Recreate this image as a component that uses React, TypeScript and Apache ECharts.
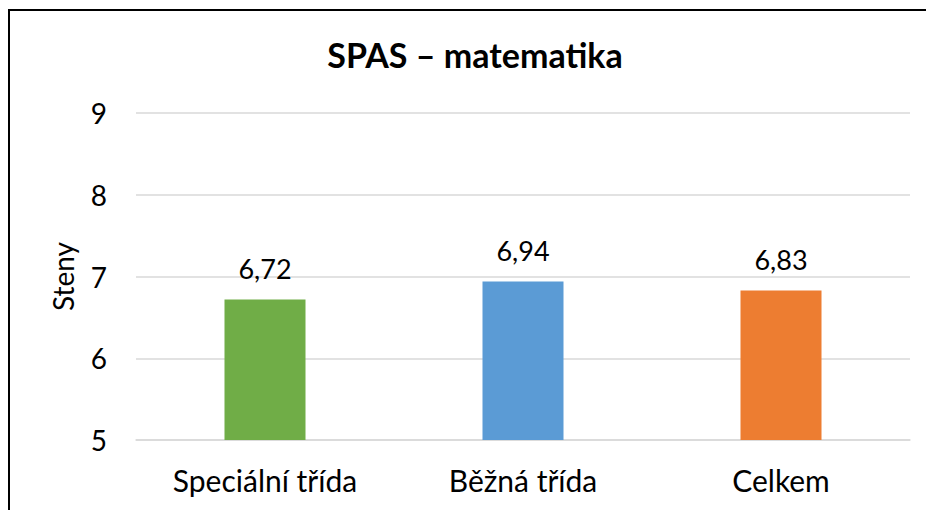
import React, { useEffect, useRef } from "react";
import * as echarts from "echarts";

const categories = ["Speciální třída", "Běžná třída", "Celkem"];
const values = [6.72, 6.94, 6.83];
const barColors = ["#70AD47", "#5B9BD5", "#ED7D31"];
const yTicks = [5, 6, 7, 8, 9];
const FONT = "Lato, 'Open Sans', sans-serif";

export default function App() {
  const ref = useRef<HTMLDivElement>(null);
  useEffect(() => {
    const chart = echarts.init(ref.current!, null, { renderer: "svg" });
    chart.setOption({
      animation: false,
      backgroundColor: "#fff",
      textStyle: { fontFamily: FONT },
      title: {
        text: "SPAS – matematika",
        left: 470,
        top: 32,
        textAlign: "center",
        textStyle: { fontFamily: FONT, fontWeight: "bold", fontSize: 34, color: "#000" },
      },
      graphic: [
        {
          type: "rect",
          shape: { x: 9, y: 10, width: 1000, height: 600 },
          style: { fill: "none", stroke: "#000", lineWidth: 2 },
          silent: true,
        },
      ],
      grid: { left: 136, right: 16, top: 113, bottom: 70 },
      xAxis: {
        type: "category",
        data: categories,
        axisLine: { show: true, lineStyle: { color: "#d9d9d9", width: 1.5 } },
        axisTick: { show: false },
        axisLabel: { fontFamily: FONT, fontSize: 30, color: "#000", margin: 25 },
      },
      yAxis: {
        type: "value",
        min: yTicks[0],
        max: yTicks[yTicks.length - 1],
        interval: 1,
        name: "Steny",
        nameLocation: "middle",
        nameGap: 59,
        nameTextStyle: { fontFamily: FONT, fontSize: 28, color: "#000" },
        axisLine: { show: false },
        axisTick: { show: false },
        splitLine: { lineStyle: { color: "#d9d9d9", width: 1.5 } },
        axisLabel: { fontFamily: FONT, fontSize: 28, color: "#000", margin: 29 },
      },
      series: [
        {
          type: "bar",
          data: values.map((v, i) => ({ value: v, itemStyle: { color: barColors[i] } })),
          barWidth: "31.4%",
          label: {
            show: true,
            position: "top",
            distance: 17,
            fontFamily: FONT,
            fontSize: 27,
            color: "#000",
            formatter: (p: any) => String(p.value.toFixed(2)).replace(".", ","),
          },
        },
      ],
    });
    return () => chart.dispose();
  }, []);
  return (
    <div
      ref={ref}
      style={{ position: "absolute", left: 0, top: 0, width: 926, height: 510 }}
    />
  );
}
